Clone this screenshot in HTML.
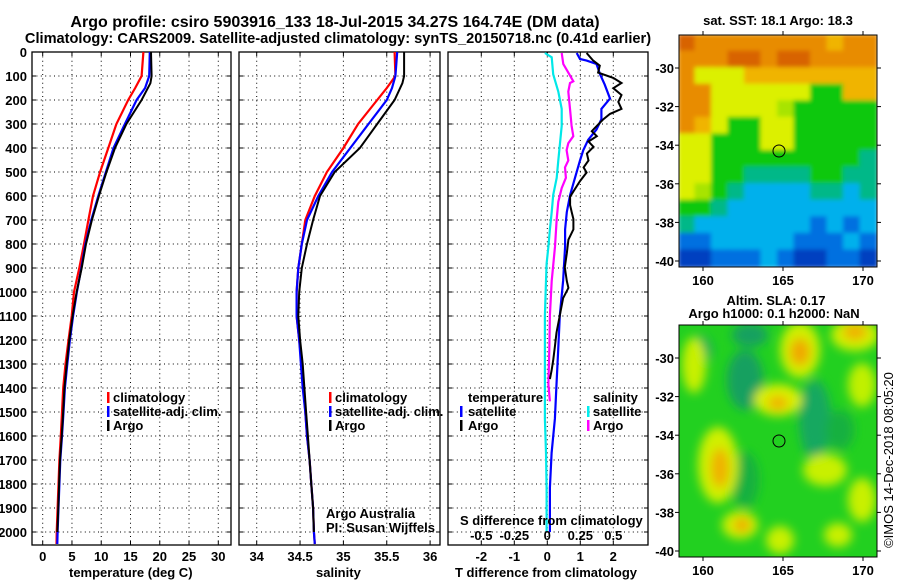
<!DOCTYPE html>
<html><head><meta charset="utf-8"><style>
html,body{margin:0;padding:0;background:#fff;}
svg{display:block;font-family:"Liberation Sans",sans-serif;}
.b{font-weight:bold;font-size:13px;}
.t{font-weight:bold;}
</style></head><body>
<svg id="fig" width="900" height="580" viewBox="0 0 900 580">
<text class="t" x="335" y="27" font-size="16" text-anchor="middle">Argo profile: csiro 5903916_133 18-Jul-2015 34.27S 164.74E (DM data)</text>
<text class="t" x="338" y="43" font-size="14.6" text-anchor="middle">Climatology: CARS2009. Satellite-adjusted climatology: synTS_20150718.nc (0.41d earlier)</text>
<g id="plots"></g>
<g id="maps">
 <defs>
  <clipPath id="c1"><rect x="679" y="35" width="198" height="232"/></clipPath>
  <clipPath id="c2"><rect x="679" y="325" width="198" height="232"/></clipPath>
  <filter id="bl" x="-50%" y="-50%" width="200%" height="200%"><feGaussianBlur stdDeviation="5"/></filter>
  <filter id="bl2" x="-5%" y="-5%" width="110%" height="110%"><feGaussianBlur stdDeviation="2"/></filter>
 </defs>
 <text class="b" x="778" y="25" text-anchor="middle">sat. SST: 18.1 Argo: 18.3</text>
 <g clip-path="url(#c1)">
  <g id="sstgrid" filter="url(#bl2)"></g>
 </g>
 <rect x="679" y="35" width="198" height="232" fill="none" stroke="#000"/>
 <circle cx="779" cy="151" r="6" fill="none" stroke="#000"/>

 <text class="b" x="776" y="305" text-anchor="middle">Altim. SLA: 0.17</text>
 <text class="b" x="774" y="318" text-anchor="middle">Argo h1000: 0.1 h2000: NaN</text>
 <g clip-path="url(#c2)">
  <rect x="679" y="325" width="198" height="232" fill="#22d020"/>
  <g filter="url(#bl)">
   <ellipse cx="745" cy="380" rx="18" ry="30" fill="#12a060"/>
   <ellipse cx="750" cy="335" rx="18" ry="12" fill="#12a060"/>
   <ellipse cx="815" cy="420" rx="16" ry="40" fill="#14a860"/>
   <ellipse cx="745" cy="480" rx="14" ry="28" fill="#18b040"/>
   <ellipse cx="700" cy="350" rx="12" ry="14" fill="#14a860"/>
   <ellipse cx="840" cy="430" rx="14" ry="20" fill="#18b040"/>
   <ellipse cx="800" cy="350" rx="20" ry="28" fill="#d0f000"/>
   <ellipse cx="800" cy="352" rx="10" ry="14" fill="#f0a800"/>
   <ellipse cx="855" cy="335" rx="24" ry="16" fill="#d0f000"/>
   <ellipse cx="855" cy="332" rx="12" ry="8" fill="#f0b000"/>
   <ellipse cx="694" cy="365" rx="12" ry="28" fill="#c8f000"/>
   <ellipse cx="778" cy="400" rx="24" ry="16" fill="#d8f000"/>
   <ellipse cx="778" cy="403" rx="10" ry="7" fill="#f0b000"/>
   <ellipse cx="718" cy="465" rx="20" ry="38" fill="#d0f000"/>
   <ellipse cx="720" cy="468" rx="9" ry="20" fill="#f0b000"/>
   <ellipse cx="740" cy="525" rx="18" ry="14" fill="#d0f000"/>
   <ellipse cx="742" cy="525" rx="8" ry="7" fill="#f0a800"/>
   <ellipse cx="825" cy="470" rx="22" ry="16" fill="#c8f000"/>
   <ellipse cx="862" cy="385" rx="14" ry="22" fill="#c0f000"/>
   <ellipse cx="862" cy="500" rx="14" ry="22" fill="#c8f000"/>
   <ellipse cx="780" cy="540" rx="14" ry="14" fill="#c8f000"/>
   <ellipse cx="838" cy="535" rx="14" ry="12" fill="#c8f000"/>
  </g>
 </g>
 <rect x="679" y="325" width="198" height="232" fill="none" stroke="#000"/>
 <circle cx="779" cy="441" r="6" fill="none" stroke="#000"/>
 <text x="893" y="460" font-size="13" text-anchor="middle" transform="rotate(-90 893 460)">©IMOS 14-Dec-2018 08:05:20</text>
</g>
</svg>
<script>
const depthTicks=[0,100,200,300,400,500,600,700,800,900,1000,1100,1200,1300,1400,1500,1600,1700,1800,1900,2000];
const tempTicks=[0,5,10,15,20,25,30];
const salTicks=[34,34.5,35,35.5,36];
const salTickLabels=["34","34.5","35","35.5","36"];
const dTTicks=[-2,-1,0,1,2];
const dSTicks=[-0.5,-0.25,0,0.25,0.5];
const dSTickLabels=["-0.5","-0.25","0","0.25","0.5"];
const lonTicks=[160,165,170];
const latTicks=[-30,-32,-34,-36,-38,-40];

const stdDepth=[0,100,150,200,300,400,500,600,700,800,900,1000,1100,1200,1300,1400,1500,1600,1700,1800,1900,2000,2050];
const tempClim=[17.2,16.9,15.8,14.6,12.6,11.2,9.8,8.6,7.8,7.05,6.25,5.35,4.95,4.4,3.9,3.5,3.3,3.1,2.85,2.7,2.55,2.4,2.35];
const tempSat=[18.3,18.2,17.5,16.05,14.05,12.1,10.8,9.5,8.3,7.3,6.6,5.85,5.2,4.65,4.2,3.8,3.55,3.3,3.0,2.85,2.7,2.55,2.5];
const argoDepth=[0,100,130,200,300,400,500,600,700,800,900,1000,1100,1200,1300,1400,1500,1600,1700,1800,1900,2000];
const tempArgo=[18.5,18.6,18.4,16.9,14.3,12.35,10.9,9.6,8.4,7.4,6.66,5.8,5.1,4.55,4.1,3.7,3.5,3.25,2.95,2.8,2.67,2.5];
const salClim=[35.59,35.6,35.5,35.39,35.17,35.0,34.81,34.67,34.56,34.52,34.48,34.46,34.46,34.49,34.52,34.54,34.56,34.58,34.61,34.63,34.65,34.66,34.67];
const salSat=[35.62,35.6,35.56,35.5,35.29,35.08,34.87,34.71,34.58,34.52,34.48,34.46,34.46,34.49,34.51,34.53,34.56,34.58,34.61,34.63,34.65,34.66,34.67];
const salArgo=[35.7,35.7,35.68,35.59,35.39,35.19,34.9,34.73,34.65,34.58,34.52,34.49,34.48,34.5,34.53,34.55,34.57,34.59,34.61,34.63,34.65,34.66];

const dTArgoDepth=[4,36,57,86,108,129,151,179,208,237,258,280,308,330,351,373,395,423,452,481,502,538,581,603,638,667,696,739,782,839,897,954,983,1026,1098,1169,1227,1284,1327,1363];
const dTArgo=[1.19,1.39,1.59,1.54,2.0,2.25,2.0,2.25,2.15,2.25,1.9,1.7,1.5,1.35,1.5,1.25,1.4,1.2,1.25,1.1,1.19,0.99,0.79,0.69,0.69,0.74,0.79,0.79,0.64,0.59,0.53,0.59,0.64,0.48,0.38,0.28,0.23,0.18,0.13,0.08];
const dTSatDepth=[4,29,36,50,93,136,194,237,280,323,366,409,452,524,596,667,739,811,954,1098,1241,1385,1528,1671,1815,1958,2000];
const dTSat=[0.89,0.99,1.19,1.49,1.6,1.74,1.9,1.64,1.64,1.49,1.24,1.09,0.99,0.84,0.69,0.59,0.54,0.54,0.48,0.38,0.33,0.28,0.23,0.13,0.08,0.08,0.08];
const dSArgoDepth=[4,50,86,122,129,165,237,308,351,380,409,452,481,524,567,624,696,811,954,1098,1241,1385,1456];
const dSArgo=[0.109,0.121,0.159,0.197,0.172,0.159,0.172,0.184,0.197,0.159,0.146,0.159,0.134,0.141,0.109,0.083,0.071,0.058,0.033,0.02,0.015,0.008,0.02];
const dSSatDepth=[4,22,93,165,237,308,380,452,524,596,667,739,811,882,954,1098,1241,1385,1528,1671,1815,2000];
const dSSat=[-0.018,0.033,0.045,0.083,0.109,0.109,0.096,0.083,0.071,0.045,0.033,0.02,0.008,-0.005,-0.01,-0.018,-0.018,-0.018,-0.018,-0.01,-0.005,-0.005];

const sstRows=["ROOOOOOOOAOO","OOORRORROOOO","OYYYAAAAAAAA","OOYYYYYYGGAA","OOYYYYLGGGGG","OAYGGYYGGGGG","YYGGGYYGGGGG","YYGGGGGGGGGT","YYGGTTTTGGTT","YLGTCCCCTTCT","GGTCCCCCCCCC","TCCCCCCCBCBC","BBCCCCCBBBCB","DDBBBCBDDBBD"];
const sstColors={R:'#d86400',O:'#e88c00',A:'#f0b400',Y:'#dcf000',L:'#a8e400',G:'#10c810',T:'#00b888',C:'#00b0ec',B:'#0070e0',D:'#0040c0'};

const NS='http://www.w3.org/2000/svg';
const root=document.getElementById('plots');
function mk(tag,at,parent){const e=document.createElementNS(NS,tag);for(const k in at)e.setAttribute(k,at[k]);(parent||root).appendChild(e);return e;}
const TOP=52,BOT=545;
const yD=d=>TOP+d*0.24;
const P1={l:32,r:231,x:v=>42.7+v*5.853};
const P2={l:239,r:440,x:v=>256.7+(v-34)*86.7};
const P3={l:448,r:648,x:v=>547.3+v*33};
const xS=v=>547.3+v*132;

// SST grid
const sg=document.getElementById('sstgrid');
sstRows.forEach((row,r)=>{
  for(let c=0;c<row.length;c++){
    const cell=mk('rect',{x:679+c*16.5-1,y:35+r*16.57-1,width:18.5,height:18.6,fill:sstColors[row[c]]},sg);
    
    
  }
});

function frame(P,name){
  for(const d of depthTicks){
    const l=mk('line',{x1:P.l,x2:P.r,y1:yD(d),y2:yD(d),stroke:'#000','stroke-dasharray':'1,3.4','stroke-width':1});
    
    
    mk('line',{x1:P.l,x2:P.l+4,y1:yD(d),y2:yD(d),stroke:'#000'});
    mk('line',{x1:P.r-4,x2:P.r,y1:yD(d),y2:yD(d),stroke:'#000'});
  }
  const r=mk('rect',{x:P.l,y:TOP,width:P.r-P.l,height:BOT-TOP,fill:'none',stroke:'#000','stroke-width':1.3});
  
  
}
function vgrid(P,ticks,fx,labels,name,ly){
  ticks.forEach((t,i)=>{
    const x=fx(t);
    const l=mk('line',{x1:x,x2:x,y1:TOP,y2:BOT,stroke:'#000','stroke-dasharray':'1,3.4'});
    
    
    mk('line',{x1:x,x2:x,y1:BOT-4,y2:BOT,stroke:'#000'});
    mk('line',{x1:x,x2:x,y1:TOP,y2:TOP+4,stroke:'#000'});
    const tx=mk('text',{x:x,y:ly,'text-anchor':'middle',class:'b'});
    tx.textContent=labels?labels[i]:String(t);
    
    
  });
}
function line(xs,ds,fx,color,name,w){
  const pts=xs.map((v,i)=>fx(v).toFixed(1)+','+yD(ds[i]).toFixed(1)).join(' ');
  const p=mk('polyline',{points:pts,fill:'none',stroke:color,'stroke-width':w||2.2,'stroke-linejoin':'miter'});
  
  
}
function txt(x,y,s,name,cls,anchor,extra){
  const t=mk('text',Object.assign({x:x,y:y,'text-anchor':anchor||'start',class:cls||'b'},extra||{}));
  t.textContent=s;
  
  
  return t;
}
function legMark(x,y,c){const m=mk('rect',{x:x,y:y-10,width:2.5,height:11,fill:c});}

// panel 1
frame(P1,'temp-panel');
vgrid(P1,tempTicks,P1.x,null,'temp-x',561);
depthTicks.forEach(d=>{txt(27,yD(d)+5,String(d),'depth-tick-label','b','end');});
line(tempClim,stdDepth,P1.x,'#ff0000','temp-climatology-line');
line(tempSat,stdDepth,P1.x,'#0000ff','temp-satellite-line');
line(tempArgo,argoDepth,P1.x,'#000','temp-argo-line',2);
txt(69,577,'temperature (deg C)','temp-x-axis-title');
legMark(107,402,'#f00');txt(113,402,'climatology','legend-climatology');
legMark(107,416,'#00f');txt(113,416,'satellite-adj. clim.','legend-satellite');
legMark(107,430,'#000');txt(113,430,'Argo','legend-argo');

// panel 2
frame(P2,'sal-panel');
vgrid(P2,salTicks,P2.x,salTickLabels,'sal-x',561);
line(salClim,stdDepth,P2.x,'#ff0000','sal-climatology-line');
line(salSat,stdDepth,P2.x,'#0000ff','sal-satellite-line');
line(salArgo,argoDepth,P2.x,'#000','sal-argo-line',2);
txt(316,577,'salinity','sal-x-axis-title');
legMark(329,402,'#f00');txt(335,402,'climatology','legend-climatology-2');
legMark(329,416,'#00f');txt(335,416,'satellite-adj. clim.','legend-satellite-2');
legMark(329,430,'#000');txt(335,430,'Argo','legend-argo-2');
txt(326,518,'Argo Australia','credit-line-1','', 'start',{'font-size':'12.5'});
txt(326,532,'PI: Susan Wijffels','credit-line-2','', 'start',{'font-size':'12.5'});

// panel 3
frame(P3,'diff-panel');
vgrid(P3,dTTicks,P3.x,null,'dt-x',561);
line(dSSat,dSSatDepth,xS,'#00e8e8','ds-satellite-line');
line(dSArgo,dSArgoDepth,xS,'#ff00ff','ds-argo-line');
line(dTSat,dTSatDepth,P3.x,'#0000ff','dt-satellite-line');
line(dTArgo,dTArgoDepth,P3.x,'#000','dt-argo-line',2);
dSTicks.forEach((v,i)=>{txt(xS(v),540,dSTickLabels[i],'ds-tick-label','b','middle');});
txt(460,525,'S difference from climatology','ds-axis-title');
txt(455,577,'T difference from climatology','dt-x-axis-title');
txt(468,402,'temperature','legend-temperature-header');
legMark(460,416,'#00f');txt(468,416,'satellite','legend-dt-satellite');
legMark(460,430,'#000');txt(468,430,'Argo','legend-dt-argo');
txt(593,402,'salinity','legend-salinity-header');
legMark(587,416,'#0ee');txt(593,416,'satellite','legend-ds-satellite');
legMark(587,430,'#f0f');txt(593,430,'Argo','legend-ds-argo');

// map axes
const mapsG=document.getElementById('maps');
function mapAxes(y0,y1,prefix){
  const lx=v=>703+(v-160)*16, ly=v=>y0+33+(-30-v)*19.3;
  lonTicks.forEach(v=>{
    mk('line',{x1:lx(v),x2:lx(v),y1:y1,y2:y1+4,stroke:'#000'},mapsG);
    mk('line',{x1:lx(v),x2:lx(v),y1:y0-4,y2:y0,stroke:'#000'},mapsG);
    const t=mk('text',{x:lx(v),y:y1+18,'text-anchor':'middle',class:'b'},mapsG);t.textContent=String(v);
    
    
  });
  latTicks.forEach(v=>{
    mk('line',{x1:675,x2:679,y1:ly(v),y2:ly(v),stroke:'#000'},mapsG);
    mk('line',{x1:877,x2:881,y1:ly(v),y2:ly(v),stroke:'#000'},mapsG);
    const t=mk('text',{x:674,y:ly(v)+5,'text-anchor':'end',class:'b'},mapsG);t.textContent=String(v);
    
    
  });
}
mapAxes(35,267,'sst');
mapAxes(325,557,'sla');
</script>
</body></html>
